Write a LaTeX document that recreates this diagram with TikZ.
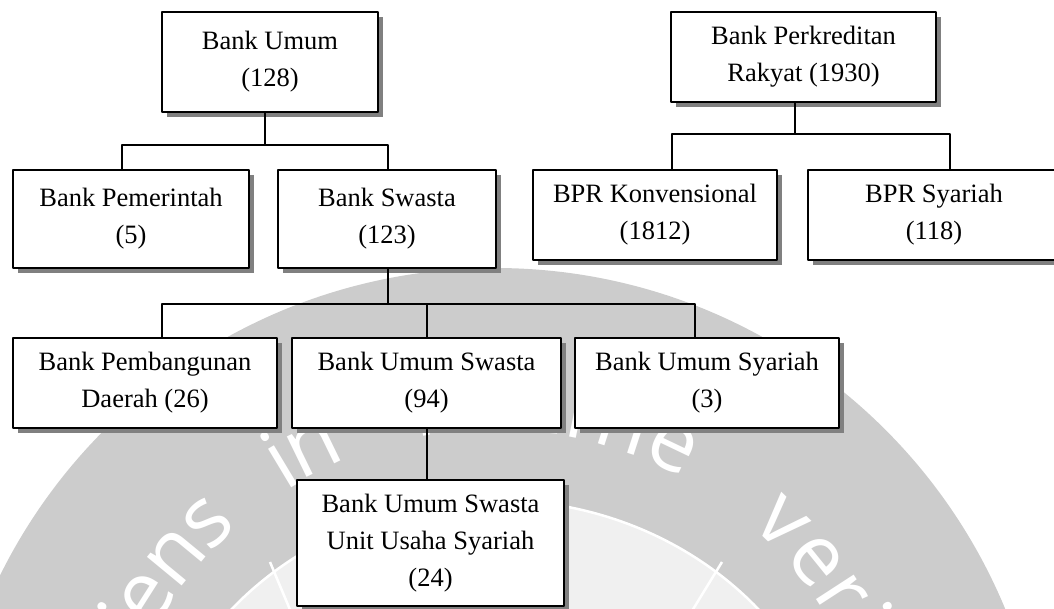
\documentclass[tikz,border=0pt]{standalone}
\usepackage{fontspec}
\setmainfont{Liberation Serif}
\newfontfamily\wmfont{Open Sans}
\usetikzlibrary{shadows}
\begin{document}
\begin{tikzpicture}[x=1pt,y=-1pt,line join=round,
	bank/.style={draw,line width=1.9pt,fill=white,align=center,inner sep=0pt,
		font=\fontsize{26.5}{37}\selectfont,
		drop shadow={shadow xshift=5pt,shadow yshift=-5pt,fill=black!50,opacity=1}},
	link/.style={line width=2pt},
	wm/.style={text=white,font=\wmfont\fontsize{84}{84}\selectfont,anchor=base,inner sep=0pt}]
	\def\ring{black!20}
	\def\disk{black!6}
	\useasboundingbox (0,0) rectangle (1054,608);
	% watermark
	\begin{scope}[shift={(495,820)}]
	\fill[\ring] (0,0) circle (552pt);
	\fill[\disk] (0,0) ellipse [x radius=350pt,y radius=320pt];
	\draw[white,line width=2.5pt] (0,0) ellipse [x radius=350pt,y radius=320pt];
	\foreach \c/\a in {S/168.5,a/163,p/157.5,i/151.5,e/147.5,n/140.5,s/134,
		i/121,n/116,l/100,u/93.5,m/85.5,i/78.5,n/72,e/64.5,
		v/46,e/39,r/33,i/28.5,t/24,a/18.5,s/12.5}
		\node[wm,rotate=\a-90] at (\a:390pt) {\c};
	\end{scope}
	\draw[white,line width=2.5pt] (722,562)--(684,624) (270,562)--(296,624);
	% boxes
	\node[bank,minimum width=216pt,minimum height=100pt] (umum) at (270,62) {Bank Umum\\(128)};
	\node[bank,minimum width=236pt,minimum height=98pt] (pemerintah) at (131,219) {Bank Pemerintah\\(5)};
	\node[bank,minimum width=218pt,minimum height=98pt] (swasta) at (387,219) {Bank Swasta\\(123)};
	\node[bank,minimum width=265pt,minimum height=90pt] (bpr) at (803.5,57) {Bank Perkreditan\\Rakyat (1930)};
	\node[bank,minimum width=244pt,minimum height=90pt] (bprk) at (655,215) {BPR Konvensional\\(1812)};
	\node[bank,minimum width=252pt,minimum height=90pt] (bprs) at (934,215) {BPR Syariah\\(118)};
	\node[bank,minimum width=264pt,minimum height=90pt] (bpd) at (145,383) {Bank Pembangunan\\Daerah (26)};
	\node[bank,minimum width=269pt,minimum height=90pt] (bus) at (426.5,383) {Bank Umum Swasta\\(94)};
	\node[bank,minimum width=264pt,minimum height=90pt] (busy) at (707,383) {Bank Umum Syariah\\(3)};
	\node[bank,minimum width=267pt,minimum height=126pt] (uus) at (430.5,543) {Bank Umum Swasta\\Unit Usaha Syariah\\(24)};
	% connectors
	\coordinate (j1) at (265,145);
	\coordinate (j2) at (388,304);
	\coordinate (j3) at (795,134);
	\draw[link] ([xshift=-5pt]umum.south) -- (j1);
	\draw[link] ([xshift=-9pt]pemerintah.north) |- (j1) -| ([xshift=1pt]swasta.north);
	\draw[link] ([xshift=1pt]swasta.south) -- (j2);
	\draw[link] ([xshift=17pt]bpd.north) |- (j2) -| ([xshift=-12pt]busy.north);
	\draw[link] (bus.north) -- (bus.north |- j2);
	\draw[link] (bus.south) -- (bus.south |- uus.north);
	\draw[link] ([xshift=-8.5pt]bpr.south) -- (j3);
	\draw[link] ([xshift=17pt]bprk.north) |- (j3) -| ([xshift=16pt]bprs.north);
\end{tikzpicture}
\end{document}
